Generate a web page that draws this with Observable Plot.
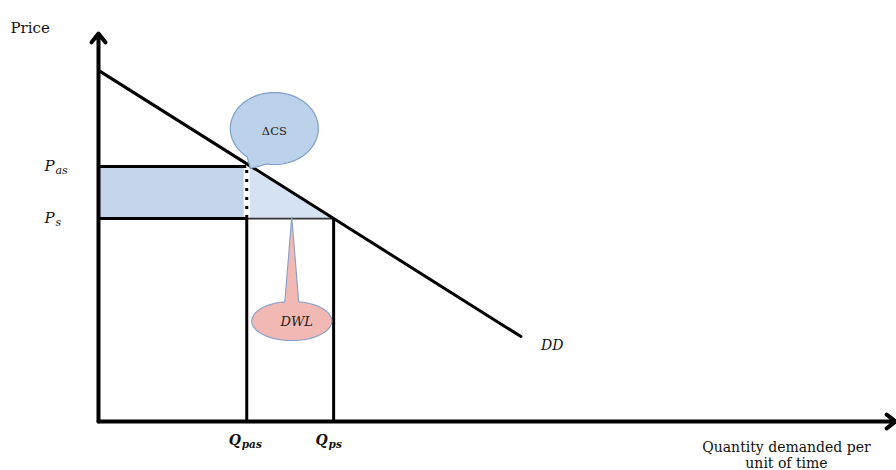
<!DOCTYPE html>
<html><head><meta charset="utf-8">
<script src="https://cdn.jsdelivr.net/npm/d3@7"></script>
<script src="https://cdn.jsdelivr.net/npm/@observablehq/plot@0.6"></script>
<style>body{margin:0;background:#fff}</style>
</head><body><div id="chart"></div>
<script>
// ---- data ----
// demand curve DD: quantity and price at its two ends
const demandQ = [0, 53.0];
const demandP = [90.5, 21.9];
const demandLabel = "DD";
// price levels on the vertical axis
const priceNames = ["P", "P"];
const priceSubs = ["as", "s"];
const priceValues = [65.7, 52.3];
// quantity levels on the horizontal axis
const qtyNames = ["Q", "Q"];
const qtySubs = ["pas", "ps"];
const qtyValues = [18.6, 29.5];
// axis extents and titles
const axisMax = [100, 100];
const yTitle = "Price";
const xTitle = "Quantity demanded per\nunit of time";
// callout labels
const calloutLabels = ["ΔCS", "DWL"];

// ---- layout ----
const W = 896, H = 470, ML = 98, MR = 1, MT = 33, MB = 49;
const kx = (W - ML - MR) / axisMax[0], ky = (H - MT - MB) / axisMax[1];
const serif = "'DejaVu Serif', 'Liberation Serif', serif";

const Qpas = qtyValues[0], Qps = qtyValues[1], Pas = priceValues[0], Ps = priceValues[1];

const demand = demandQ.map((q, i) => ({q, p: demandP[i]}));
const triangle = [{q: Qpas, p: Pas}, {q: Qps, p: Ps}, {q: Qpas, p: Ps}];
const axes = [
  {x1: 0, y1: 0, x2: 0, y2: axisMax[1]},
  {x1: 0, y1: 0, x2: axisMax[0], y2: 0}
];
const priceRows = priceValues.map((p, i) => ({p, name: priceNames[i], sub: priceSubs[i]}));
const qtyRows = qtyValues.map((q, i) => ({q, name: qtyNames[i], sub: qtySubs[i]}));

// speech-bubble outline (pixel offsets turned into data units around a data tip)
function bubble(tip, off, rx, ry, from, to) {
  const pts = [];
  for (let a = from; a <= to; a += 4) {
    const r = a * Math.PI / 180;
    pts.push([off[0] + rx * Math.cos(r), off[1] + ry * Math.sin(r)]);
  }
  pts.push([0, 0]);
  return {
    path: pts.map(([px, py]) => ({q: tip[0] + px / kx, p: tip[1] - py / ky})),
    center: {q: tip[0] + off[0] / kx, p: tip[1] - off[1] / ky}
  };
}
const csBubble = bubble([Qpas + 0.45, Pas - 0.5], [24, -40], 44, 36, 128, 460);
const dwlBubble = bubble([(Qpas + Qps) / 2 + 0.2, Ps + 0.4], [0, 104], 40, 19.5, 280, 620);

const plot = Plot.plot({
  width: W, height: H,
  marginLeft: ML, marginRight: MR, marginTop: MT, marginBottom: MB,
  x: {domain: [0, axisMax[0]], axis: null},
  y: {domain: [0, axisMax[1]], axis: null},
  style: {background: "#fff", overflow: "visible"},
  marks: [
    Plot.rect([0], {x1: 0, x2: Qpas, y1: Ps, y2: Pas, fill: "#c4d5eb"}),
    Plot.line(triangle, {x: "q", y: "p", fill: "#d4e2f4", stroke: null, curve: "linear-closed"}),
    Plot.ruleX([Qpas], {y1: Ps, y2: Pas, stroke: "#fff", strokeWidth: 6}),
    Plot.ruleX([Qpas], {y1: Ps, y2: Pas, stroke: "#000", strokeWidth: 3, strokeDasharray: "3,6"}),
    Plot.ruleY([Pas], {x1: 0, x2: Qpas, stroke: "#000", strokeWidth: 3}),
    Plot.ruleY([Ps], {x1: 0, x2: Qpas, stroke: "#000", strokeWidth: 3}),
    Plot.ruleY([Ps], {x1: Qpas, x2: Qps, stroke: "#333", strokeWidth: 1.6}),
    Plot.ruleX(qtyValues, {y1: 0, y2: Ps, stroke: "#000", strokeWidth: 3}),
    Plot.line(demand, {x: "q", y: "p", stroke: "#000", strokeWidth: 3}),
    Plot.arrow(axes, {x1: "x1", y1: "y1", x2: "x2", y2: "y2", stroke: "#000", strokeWidth: 4, headLength: 4.2, headAngle: 76}),
    Plot.line(csBubble.path, {x: "q", y: "p", fill: "#bcd1ea", stroke: "#7f9fcc", strokeWidth: 1.2, curve: "linear-closed"}),
    Plot.line(dwlBubble.path, {x: "q", y: "p", fill: "#f2b8b4", stroke: "#8ea2c9", strokeWidth: 1.2, curve: "linear-closed"}),
    Plot.text([csBubble.center], {x: "q", y: "p", text: () => calloutLabels[0], fontFamily: serif, fontSize: 11.5, fill: "#222", dy: 3}),
    Plot.text([dwlBubble.center], {x: "q", y: "p", text: () => calloutLabels[1], fontFamily: serif, fontStyle: "italic", fontSize: 13, fill: "#222", dx: 5, dy: 1}),
    // price labels
    Plot.text(priceRows, {x: 0, y: "p", text: "name", dx: -49, fontFamily: serif, fontStyle: "italic", fontSize: 15, fill: "#111"}),
    Plot.text(priceRows, {x: 0, y: "p", text: "sub", dx: -43, dy: 4, textAnchor: "start", fontFamily: serif, fontStyle: "italic", fontSize: 11, fill: "#111"}),
    // quantity labels
    Plot.text(qtyRows, {x: "q", y: 0, text: "name", dx: -12, dy: 19, fontFamily: serif, fontStyle: "italic", fontWeight: "bold", fontSize: 14, fill: "#111"}),
    Plot.text(qtyRows, {x: "q", y: 0, text: "sub", dx: -5, dy: 23, textAnchor: "start", fontFamily: serif, fontStyle: "italic", fontWeight: "bold", fontSize: 10.5, fill: "#111"}),
    // DD label
    Plot.text([demand[1]], {x: "q", y: "p", text: () => demandLabel, dx: 20, dy: 9, textAnchor: "start", fontFamily: serif, fontStyle: "italic", fontSize: 14, fill: "#111"}),
    // axis titles
    Plot.text([yTitle], {frameAnchor: "top-left", dx: -88, dy: -11, textAnchor: "start", fontFamily: serif, fontSize: 15, fill: "#111"}),
    Plot.text([xTitle], {frameAnchor: "bottom-right", dx: -109, dy: 20, textAnchor: "middle", lineAnchor: "top", lineHeight: 1.1, fontFamily: serif, fontSize: 14, fill: "#111"})
  ]
});
document.getElementById("chart").appendChild(plot);
</script>
</body></html>
